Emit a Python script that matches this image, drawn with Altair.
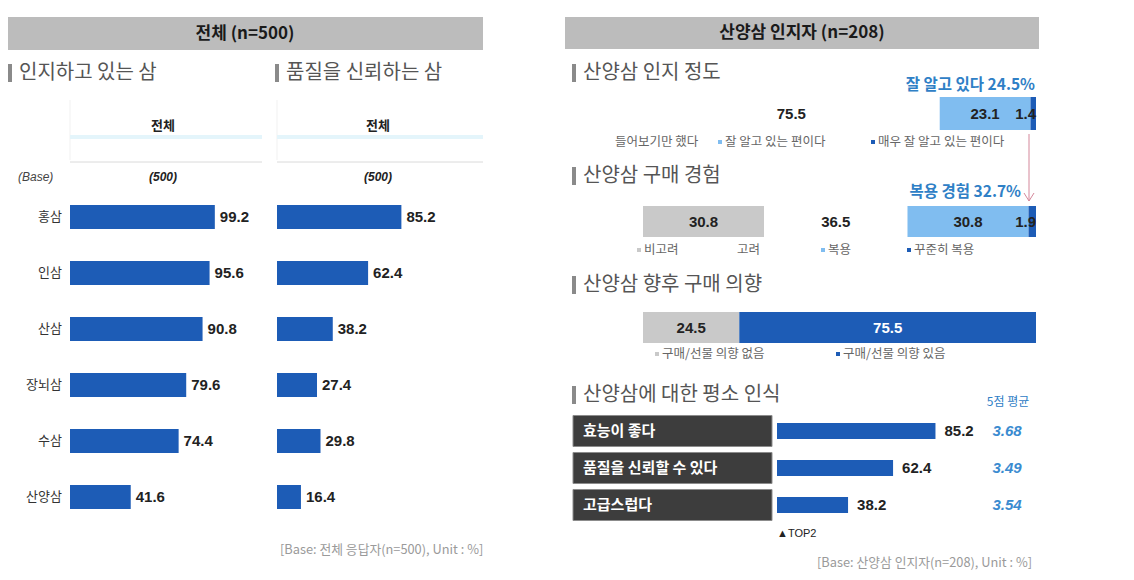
import altair as alt
import pandas as pd

# ---------------- data ----------------
CATS = ["홍삼", "인삼", "산삼", "장뇌삼", "수삼", "산양삼"]
AWARE = [99.2, 95.6, 90.8, 79.6, 74.4, 41.6]
TRUST = [85.2, 62.4, 38.2, 27.4, 29.8, 16.4]

KNOW_LABELS = ["들어보기만 했다", "잘 알고 있는 편이다", "매우 잘 알고 있는 편이다"]
KNOW_VALUES = [75.5, 23.1, 1.4]

BUY_LABELS = ["비고려", "고려", "복용", "꾸준히 복용"]
BUY_VALUES = [30.8, 36.5, 30.8, 1.9]

INTENT_LABELS = ["구매/선물 의향 없음", "구매/선물 의향 있음"]
INTENT_VALUES = [24.5, 75.5]

PERC_LABELS = ["효능이 좋다", "품질을 신뢰할 수 있다", "고급스럽다"]
PERC_TOP2 = [85.2, 62.4, 38.2]
PERC_MEAN = ["3.68", "3.49", "3.54"]

# ---------------- styles ----------------
BLUE = "#1d5cb6"
LIGHT = "#80bdf0"
GRAY = "#c9c9c9"
WHITE = "#ffffff"
TXT_BLUE = "#2f80c6"
KNOW_COLORS = [WHITE, LIGHT, BLUE]
BUY_COLORS = [GRAY, WHITE, LIGHT, BLUE]
INTENT_COLORS = [GRAY, BLUE]

KR = "Noto Sans CJK KR"
NUM = "Liberation Sans Narrow, Liberation Sans, Arial, sans-serif"
NUM_SIZE = 15
O = 8  # page margin


def p(v):
    return v - O


ONE = pd.DataFrame({"k": [0]})


def text(s, x, y, size=13, color="#222", weight="normal", align="left",
         font=KR, style="normal"):
    return alt.Chart(ONE).mark_text(
        text=s, align=align, baseline="middle", fontSize=size, color=color,
        fontWeight=weight, font=font, fontStyle=style
    ).encode(x=alt.value(p(x)), y=alt.value(p(y)))


def rect(x1, x2, y1, y2, fill):
    return alt.Chart(ONE).mark_rect(fill=fill).encode(
        x=alt.value(p(x1)), x2=alt.value(p(x2)),
        y=alt.value(p(y1)), y2=alt.value(p(y2)))


def rule(x1, y1, x2, y2, color, w=1):
    return alt.Chart(ONE).mark_rule(color=color, strokeWidth=w).encode(
        x=alt.value(p(x1)), x2=alt.value(p(x2)),
        y=alt.value(p(y1)), y2=alt.value(p(y2)))


def section(title, x, y):
    return [rect(x, x + 4, y - 9, y + 9, "#8a8a8a"),
            text(title, x + 11, y, size=20, color="#555")]


def hbar_panel(values, x0, with_cats):
    df = pd.DataFrame({"cat": CATS, "v": values})
    y = alt.Y("cat:N", sort=CATS, axis=None,
              scale=alt.Scale(range=[p(189), p(525)],
                              paddingInner=0.571, paddingOuter=0.2855))
    x = alt.X("v:Q", axis=None,
              scale=alt.Scale(domain=[0, 100], range=[p(x0), p(x0 + 146)]))
    layers = [
        alt.Chart(df).mark_bar(color=BLUE).encode(x=x, y=y),
        alt.Chart(df).mark_text(align="left", baseline="middle", dx=5, font=NUM,
                                fontWeight="bold", fontSize=NUM_SIZE, color="#222")
        .encode(x=x, y=y, text=alt.Text("v:Q", format=".1f")),
    ]
    if with_cats:
        layers.append(
            alt.Chart(df).mark_text(align="right", baseline="middle", font=KR,
                                    fontSize=13, color="#333")
            .encode(x=alt.value(p(62)), y=y, text="cat:N"))
    return layers


def stack_bar(labels, values, colors, x0, x1, y1, y2):
    starts, ends, acc = [], [], 0.0
    for v in values:
        starts.append(acc)
        acc += v
        ends.append(acc)
    df = pd.DataFrame({
        "seg": labels, "v": values, "start": starts, "end": ends,
        "mid": [(a + b) / 2 for a, b in zip(starts, ends)],
        "col": colors,
        "tcol": ["#ffffff" if (c == BLUE and v >= 5) else "#222222"
                 for c, v in zip(colors, values)],
    })
    sc = alt.Scale(domain=[0, 100], range=[p(x0), p(x1)])
    ym = (y1 + y2) / 2
    bars = alt.Chart(df).mark_rect().encode(
        x=alt.X("start:Q", scale=sc, axis=None), x2="end:Q",
        y=alt.value(p(y1)), y2=alt.value(p(y2)),
        color=alt.Color("col:N", scale=None))
    big = alt.Chart(df).transform_filter("datum.v >= 5").mark_text(
        align="center", baseline="middle", font=NUM, fontWeight="bold", fontSize=NUM_SIZE
    ).encode(x=alt.X("mid:Q", scale=sc, axis=None), y=alt.value(p(ym)),
             text=alt.Text("v:Q", format=".1f"),
             color=alt.Color("tcol:N", scale=None))
    small = alt.Chart(df).transform_filter("datum.v < 5").mark_text(
        align="right", baseline="middle", font=NUM, fontWeight="bold", fontSize=NUM_SIZE,
        color="#222"
    ).encode(x=alt.X("end:Q", scale=sc, axis=None), y=alt.value(p(ym)),
             text=alt.Text("v:Q", format=".1f"))
    return [bars, big, small]


def legend(labels, colors, marker_x, y):
    df = pd.DataFrame({"lab": labels, "col": colors, "mx": [p(m) for m in marker_x]})
    mk = alt.Chart(df).mark_square(size=16, opacity=1).encode(
        x=alt.X("mx:Q", scale=None), y=alt.value(p(y)),
        color=alt.Color("col:N", scale=None))
    tx = alt.Chart(df).mark_text(align="left", baseline="middle", dx=5, font=KR,
                                 fontSize=12.5, color="#666").encode(
        x=alt.X("mx:Q", scale=None), y=alt.value(p(y)), text="lab:N")
    return [mk, tx]


layers = []

# ---------------- left panel ----------------
layers += [rect(7, 483, 17, 50, "#bcbcbc"),
           text("전체 (n=500)", 245, 34, size=17, weight="bold", align="center", color="#1a1a1a")]
layers += section("인지하고 있는 삼", 8, 73)
layers += section("품질을 신뢰하는 삼", 275, 73)
for x1, x2, cx in [(70, 262, 163), (277, 483, 378)]:
    layers += [rule(x1, 100, x1, 160, "#f1f1f1"),
               rect(x1, x2, 135, 139, "#e4f5fb"),
               rule(x1, 162, x2, 162, "#dadada"),
               text("전체", cx, 126, size=13, weight="bold", align="center", color="#222"),
               text("(500)", cx, 177, size=12, weight="bold", style="italic",
                    align="center", font="Liberation Sans", color="#222")]
layers.append(text("(Base)", 18, 177, size=12, style="italic", font="Liberation Sans", color="#444"))
layers += hbar_panel(AWARE, 70, True)
layers += hbar_panel(TRUST, 277, False)
layers.append(text("[Base: 전체 응답자(n=500), Unit : %]", 280, 550, size=12.8, color="#9a9a9a"))

# ---------------- right panel ----------------
layers += [rect(565, 1039, 17, 49, "#bcbcbc"),
           text("산양삼 인지자 (n=208)", 802, 33, size=17, weight="bold", align="center", color="#1a1a1a")]

# awareness level
layers += section("산양삼 인지 정도", 572, 73)
layers.append(text(f"잘 알고 있다 {sum(KNOW_VALUES[1:]):.1f}%", 1035, 85, size=15.5,
                   weight="bold", align="right", color=TXT_BLUE))
layers += stack_bar(KNOW_LABELS, KNOW_VALUES, KNOW_COLORS, 643, 1036, 97, 130)
layers += legend(KNOW_LABELS, KNOW_COLORS, [610, 720, 873], 142)

# arrow
ARROW = "#d4879a"
layers += [rule(1029, 134, 1029, 201, ARROW),
           rule(1024, 193, 1029, 201, ARROW),
           rule(1034, 193, 1029, 201, ARROW)]

# purchase experience
layers += section("산양삼 구매 경험", 572, 176)
layers.append(text(f"복용 경험 {sum(BUY_VALUES[2:]):.1f}%", 1021, 192, size=15.5,
                   weight="bold", align="right", color=TXT_BLUE))
layers += stack_bar(BUY_LABELS, BUY_VALUES, BUY_COLORS, 643, 1036, 206, 237)
layers += legend(BUY_LABELS, BUY_COLORS, [639, 732, 823, 909], 250)

# purchase intention
layers += section("산양삼 향후 구매 의향", 572, 285)
layers += stack_bar(INTENT_LABELS, INTENT_VALUES, INTENT_COLORS, 643, 1036, 312, 343)
layers += legend(INTENT_LABELS, INTENT_COLORS, [657, 838], 354)

# perception
layers += section("산양삼에 대한 평소 인식", 572, 395)
layers.append(text("5점 평균", 1008, 402, size=12, align="center", color=TXT_BLUE))
pdf = pd.DataFrame({"lab": PERC_LABELS, "v": PERC_TOP2, "m": PERC_MEAN})


def yband(pi, po):
    return alt.Y("lab:N", sort=PERC_LABELS, axis=None,
                 scale=alt.Scale(range=[p(412.5), p(523.5)],
                                 paddingInner=pi, paddingOuter=po))


px = alt.X("v:Q", axis=None, scale=alt.Scale(domain=[0, 100], range=[p(777), p(963)]))
layers += [
    alt.Chart(pdf).mark_rect(fill="#3d3d3d", stroke="#8c8c8c", strokeWidth=1).encode(
        x=alt.value(p(573)), x2=alt.value(p(772)), y=yband(0.162, 0.081)),
    alt.Chart(pdf).mark_text(align="left", baseline="middle", font=KR, fontSize=15,
                             fontWeight="bold", color="#ffffff").encode(
        x=alt.value(p(583)), y=yband(0.162, 0.081), text="lab:N"),
    alt.Chart(pdf).mark_bar(color=BLUE).encode(x=px, y=yband(0.568, 0.284)),
    alt.Chart(pdf).mark_text(align="left", baseline="middle", dx=9, font=NUM,
                             fontWeight="bold", fontSize=NUM_SIZE, color="#222").encode(
        x=px, y=yband(0.568, 0.284), text=alt.Text("v:Q", format=".1f")),
    alt.Chart(pdf).mark_text(align="center", baseline="middle", font=NUM,
                             fontWeight="bold", fontStyle="italic", fontSize=NUM_SIZE,
                             color="#3a8bd0").encode(
        x=alt.value(p(1007)), y=yband(0.568, 0.284), text="m:N"),
]
layers.append(text("▲TOP2", 777, 534, size=11, color="#222", font="Liberation Sans"))
layers.append(text("[Base: 산양삼 인지자(n=208), Unit : %]", 817, 563, size=12.8, color="#9a9a9a"))

chart = alt.layer(*layers).resolve_scale(
    x="independent", y="independent", color="independent"
).properties(
    width=1118, height=564, padding=0,
    autosize=alt.AutoSizeParams(type="none"),
).configure_view(stroke=None)

chart.save("out.html", embed_options={"renderer": "svg", "actions": False})
